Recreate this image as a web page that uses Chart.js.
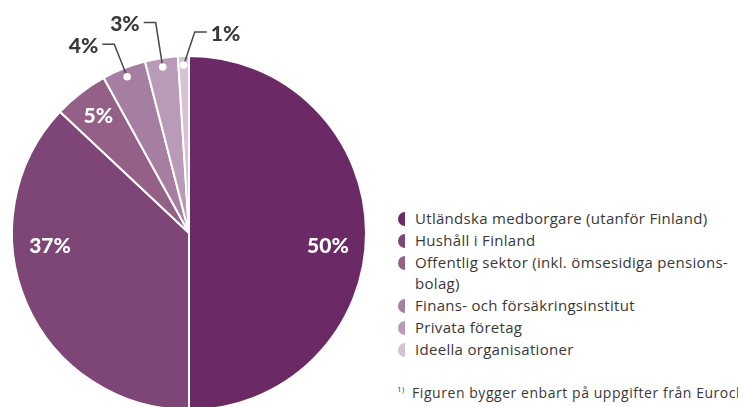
<!DOCTYPE html>
<html lang="sv">
<head>
<meta charset="utf-8">
<script src="https://cdn.jsdelivr.net/npm/chart.js@4.4.1/dist/chart.umd.min.js"></script>
<style>
  html, body { margin: 0; padding: 0; background: #fff; }
  body { width: 738px; height: 407px; overflow: hidden; position: relative; font-family: "Open Sans", "Noto Sans", sans-serif; }
  #pie { position: absolute; left: 0; top: 0; }
  #legend { position: absolute; left: 398px; top: 208px; list-style: none; margin: 0; padding: 0; color: #3a3838; font-size: 15px; letter-spacing: 0.3px; line-height: 21.8px; }
  #legend li { position: relative; padding-left: 17px; width: 330px; }
  #legend .icon { position: absolute; left: 0; top: 4px; width: 7px; height: 14px; border-radius: 7px 0 0 7px; }
  #note { position: absolute; left: 397px; top: 383px; white-space: nowrap; color: #3a3838; font-size: 14px; letter-spacing: 0.55px; }
  #note sup { font-size: 8px; margin-right: 7px; }
</style>
</head>
<body>
<canvas id="pie" width="378" height="420"></canvas>
<ul id="legend"></ul>
<div id="note"><sup>1)</sup>Figuren bygger enbart på uppgifter från Euroclear Finland.</div>

<script>
// ägarandelar, procent
const categories = [
  "Utländska medborgare (utanför Finland)",
  "Hushåll i Finland",
  "Offentlig sektor (inkl. ömsesidiga pensions-bolag)",
  "Finans- och försäkringsinstitut",
  "Privata företag",
  "Ideella organisationer"
];
const shares = [50, 37, 5, 4, 3, 1];
const sliceColors = ["#6b2a65", "#7e4577", "#946088", "#a67ea1", "#b99bb7", "#d5c2d4"];

// små andelar får etikett utanför med linje
const leaderRadius = [0, 0, 0, 203, 213, 201];
const leaderTurn = [0, 0, 0, 0, 0, 0.06];
const leaderSide = [0, 0, 0, -1, -1, 1];

const labelPlugin = {
  id: "sliceLabels",
  afterDatasetsDraw(chart) {
    const ctx = chart.ctx;
    const arcs = chart.getDatasetMeta(0).data;
    ctx.save();
    arcs.forEach((arc, i) => {
      const { x, y, startAngle, endAngle, outerRadius: r } = arc.getProps(["x", "y", "startAngle", "endAngle", "outerRadius"], true);
      const mid = (startAngle + endAngle) / 2;
      const text = shares[i] + "%";

      if (leaderSide[i] === 0) {
        ctx.fillStyle = "#fff";
        ctx.font = "900 21px Lato";
        ctx.textAlign = "center";
        ctx.textBaseline = "middle";
        let lx, ly;
        if (startAngle <= 0 && endAngle >= 0) {
          lx = x + r * 0.785; ly = y + 13;
        } else if (startAngle <= Math.PI && endAngle >= Math.PI) {
          lx = x - r * 0.785; ly = y + 13;
        } else {
          lx = x + Math.cos(mid) * r * 0.836;
          ly = y + Math.sin(mid) * r * 0.836;
        }
        ctx.fillText(text, lx, ly);
        return;
      }

      // prick i sektorn
      const dx = x + Math.cos(mid) * (r - 9);
      const dy = y + Math.sin(mid) * (r - 9);
      const a2 = mid + leaderTurn[i];
      const ex = x + Math.cos(a2) * leaderRadius[i];
      const ey = y + Math.sin(a2) * leaderRadius[i];
      const side = leaderSide[i];
      const hx = ex + side * 12;

      ctx.strokeStyle = "#4a4747";
      ctx.lineWidth = 1.5;
      ctx.beginPath();
      ctx.moveTo(dx, dy);
      ctx.lineTo(ex, ey);
      ctx.lineTo(hx, ey);
      ctx.stroke();

      ctx.fillStyle = "#fff";
      ctx.beginPath();
      ctx.arc(dx, dy, 3.8, 0, Math.PI * 2);
      ctx.fill();

      ctx.fillStyle = "#3d3a38";
      ctx.font = "900 21px Lato";
      ctx.textBaseline = "middle";
      ctx.textAlign = side < 0 ? "right" : "left";
      ctx.fillText(text, hx + side * 4, ey + 2);
    });
    ctx.restore();
  }
};

new Chart(document.getElementById("pie"), {
  type: "pie",
  data: {
    labels: categories,
    datasets: [{
      data: shares,
      backgroundColor: sliceColors,
      borderColor: "#fff",
      borderWidth: 2
    }]
  },
  options: {
    responsive: false,
    animation: false,
    layout: { padding: { left: 11, top: 55, right: 11, bottom: 9 } },
    plugins: {
      legend: { display: false },
      tooltip: { enabled: false }
    }
  },
  plugins: [labelPlugin]
});

// förklaring till höger
const legend = document.getElementById("legend");
categories.forEach((name, i) => {
  const li = document.createElement("li");
  li.innerHTML = `<span class="icon" style="background:${sliceColors[i]}"></span>${name}`;
  legend.appendChild(li);
});
</script>
</body>
</html>
